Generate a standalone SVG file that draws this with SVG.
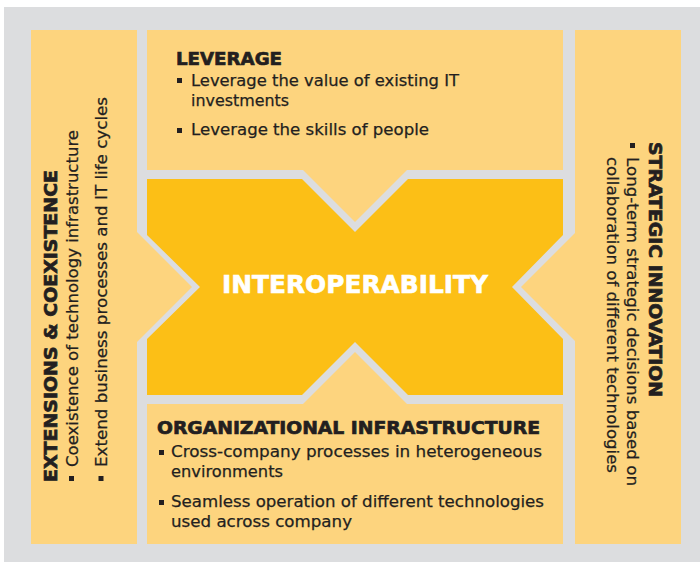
<svg xmlns="http://www.w3.org/2000/svg" width="700" height="562" viewBox="0 0 700 562">
<style>
.bg{fill:#DCDDDF}
.lt{fill:#FDD47E}
.gd{fill:#FCBF16}
.h{font-family:"DejaVu Sans","Liberation Sans",sans-serif;font-weight:bold;font-size:18px;fill:#231F20;stroke:#231F20;stroke-width:0.7}
.b{font-family:"DejaVu Sans","Liberation Sans",sans-serif;font-size:16.3px;fill:#231F20;stroke:#231F20;stroke-width:0.25}
.c{font-family:"DejaVu Sans","Liberation Sans",sans-serif;font-weight:bold;font-size:25px;fill:#FFFFFF;stroke:#FFFFFF;stroke-width:0.6}
.sq{fill:#231F20}
</style>
<rect class="bg" x="4" y="7" width="696" height="555"/>
<g id="panel-left">
<polygon class="lt" points="31,30 137,30 137,232 192,287 137,342 137,544 31,544"/>
<text class="h" transform="translate(57,482) rotate(-90)" font-size="19" textLength="312" lengthAdjust="spacingAndGlyphs">EXTENSIONS &amp; COEXISTENCE</text>
<rect class="sq" x="69" y="476" width="5" height="5"/>
<text class="b" transform="translate(78,467) rotate(-90)" textLength="337" lengthAdjust="spacingAndGlyphs">Coexistence of technology infrastructure</text>
<rect class="sq" x="98.5" y="476" width="5" height="5"/>
<text class="b" transform="translate(107,467) rotate(-90)" textLength="370" lengthAdjust="spacingAndGlyphs">Extend business processes and IT life cycles</text>
</g>
<g id="panel-top">
<polygon class="lt" points="147,30 563,30 563,170 407,170 355,222 303,170 147,170"/>
<text class="h" x="176" y="65" textLength="106" lengthAdjust="spacingAndGlyphs">LEVERAGE</text>
<rect class="sq" x="177" y="78" width="5" height="5"/>
<text class="b" x="191" y="86" textLength="268" lengthAdjust="spacingAndGlyphs">Leverage the value of existing IT</text>
<text class="b" x="191" y="106" textLength="98" lengthAdjust="spacingAndGlyphs">investments</text>
<rect class="sq" x="177" y="128" width="5" height="5"/>
<text class="b" x="191" y="135" textLength="238" lengthAdjust="spacingAndGlyphs">Leverage the skills of people</text>
</g>
<g id="panel-right">
<polygon class="lt" points="575,30 681,30 681,544 575,544 575,341 521,287 575,233"/>
<text class="h" transform="translate(649,142) rotate(90)" textLength="255" lengthAdjust="spacingAndGlyphs">STRATEGIC INNOVATION</text>
<rect class="sq" x="630" y="143" width="5" height="5"/>
<text class="b" transform="translate(627,157) rotate(90)" textLength="329" lengthAdjust="spacingAndGlyphs">Long-term strategic decisions based on</text>
<text class="b" transform="translate(607,157) rotate(90)" textLength="316" lengthAdjust="spacingAndGlyphs">collaboration of different technologies</text>
</g>
<g id="panel-bottom">
<polygon class="lt" points="147,404 303,404 355,352 407,404 563,404 563,544 147,544"/>
<text class="h" x="157" y="434" textLength="383" lengthAdjust="spacingAndGlyphs">ORGANIZATIONAL INFRASTRUCTURE</text>
<rect class="sq" x="159" y="450" width="5" height="5"/>
<text class="b" x="171" y="457" textLength="371" lengthAdjust="spacingAndGlyphs">Cross-company processes in heterogeneous</text>
<text class="b" x="171" y="477" textLength="112" lengthAdjust="spacingAndGlyphs">environments</text>
<rect class="sq" x="159" y="500" width="5" height="5"/>
<text class="b" x="171" y="507" textLength="373" lengthAdjust="spacingAndGlyphs">Seamless operation of different technologies</text>
<text class="b" x="171" y="527" textLength="181" lengthAdjust="spacingAndGlyphs">used across company</text>
</g>
<g id="center">
<polygon class="gd" points="147,179 302,179 355,232 408,179 563,179 563,235 512,287 563,339 563,395 408,395 355,342 302,395 147,395 147,339 200,287 147,235"/>
<text class="c" x="222" y="293" textLength="266" lengthAdjust="spacingAndGlyphs">INTEROPERABILITY</text>
</g>
<g id="connectors"/>
</svg>
